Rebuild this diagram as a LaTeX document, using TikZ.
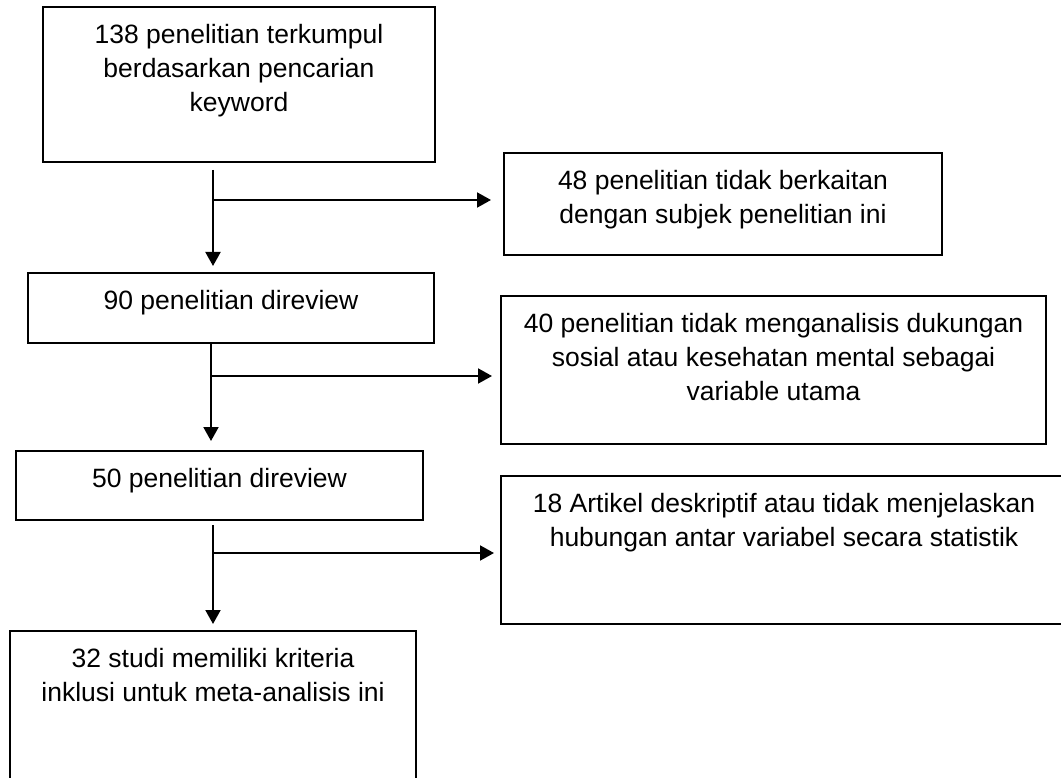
\documentclass[tikz,border=0pt]{standalone}
\usepackage{fontspec}
\setmainfont{Liberation Sans}
\usetikzlibrary{arrows.meta}
\begin{document}
\begin{tikzpicture}[x=1pt,y=-1pt,
  box/.style={draw=black, line width=2pt, rectangle, anchor=north west, inner sep=0pt},
  txt/.style={anchor=north, align=center, inner sep=0pt, font=\fontsize{26.5pt}{34pt}\selectfont},
  arr/.style={line width=2pt, -{Triangle[length=14pt,width=15pt]}}]
\useasboundingbox (0,0) rectangle (1061,778);
\clip (0,0) rectangle (1061,778);
\fill[white] (0,0) rectangle (1061,778);
% boxes
\node[box, minimum width=392pt, minimum height=155pt] (B1) at (42,6) {};
\node[box, minimum width=438pt, minimum height=102pt] (B2) at (503,152) {};
\node[box, minimum width=406pt, minimum height=70pt] (B3) at (27,272) {};
\node[box, minimum width=545pt, minimum height=148pt] (B4) at (500,295) {};
\node[box, minimum width=407pt, minimum height=69pt] (B5) at (15,450) {};
\node[box, minimum width=566pt, minimum height=148pt] (B6) at (500,475) {};
\node[box, minimum width=406pt, minimum height=170pt] (B7) at (9,630) {};
% texts
\node[txt] (T1) at ([yshift=-17.7pt]B1.north) {138 penelitian terkumpul\\berdasarkan pencarian\\keyword};
\node[txt] (T2) at ([yshift=-17.7pt]B2.north) {48 penelitian tidak berkaitan\\dengan subjek penelitian ini};
\node[txt] (T3) at ([yshift=-17.7pt]B3.north) {90 penelitian direview};
\node[txt] (T4) at ([yshift=-17.7pt]B4.north) {40 penelitian tidak menganalisis dukungan\\sosial atau kesehatan mental sebagai\\variable utama};
\node[txt] (T5) at ([yshift=-17.7pt]B5.north) {50 penelitian direview};
\node[txt] (T6) at ([yshift=-17.7pt]B6.north) {18 Artikel deskriptif atau tidak menjelaskan\\hubungan antar variabel secara statistik};
\node[txt] (T7) at ([yshift=-17.7pt]B7.north) {32 studi memiliki kriteria\\inklusi untuk meta-analisis ini};
% junctions
\coordinate (j1) at (213,200);
\coordinate (j2) at (211,376);
\coordinate (j3) at (213,553);
% connectors
\draw[arr, shorten <=7pt, shorten >=6pt] (B1.south -| j1) -- (B3.north -| j1);
\draw[arr, shorten >=12pt] (j1) -- (j1 -| B2.west);
\draw[arr, shorten <=0pt, shorten >=9pt] (B3.south -| j2) -- (B5.north -| j2);
\draw[arr, shorten >=8pt] (j2) -- (j2 -| B4.west);
\draw[arr, shorten <=4pt, shorten >=6pt] (B5.south -| j3) -- (B7.north -| j3);
\draw[arr, shorten >=6pt] (j3) -- (j3 -| B6.west);
\end{tikzpicture}
\end{document}
